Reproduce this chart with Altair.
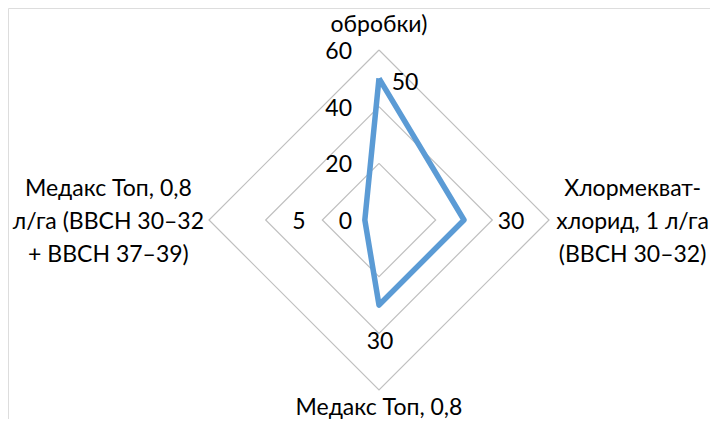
import math
import altair as alt
import pandas as pd

# ---- data ----
categories = [
    "Контроль (без обробки)",
    "Хлормекват-хлорид, 1 л/га (BBCH 30–32)",
    "Медакс Топ, 0,8 л/га (BBCH 37–39)",
    "Медакс Топ, 0,8 л/га (BBCH 30–32 + BBCH 37–39)",
]
category_labels = [
    "Контроль (без\nобробки)",
    "Хлормекват-\nхлорид, 1 л/га\n(BBCH 30–32)",
    "Медакс Топ, 0,8\nл/га (BBCH 37–39)",
    "Медакс Топ, 0,8\nл/га (BBCH 30–32\n+ BBCH 37–39)",
]
values = [50, 30, 30, 5]
ticks = [0, 20, 40, 60]
rings = [20, 40, 60]

# ---- layout ----
W, H = 702, 411
CX, CY = 371, 212           # centre of the radar in chart pixels
K = 170 / 60                # pixels per unit
FONT = "Lato"
FS = 23
LH = 33
LABEL_R = [75.3, 89.5, 71.6, 95.5]  # category label block-centre distance (units)
DLAB_OFF = [(26, 5), (47, 2), (1, 37), (-66, 2)]  # data label offsets (px)
n = len(categories)


def pol(r, i):
    a = 2 * math.pi * i / n
    return r * math.sin(a), r * math.cos(a)


ring_rows = []
for rv in rings:
    for j in range(n + 1):
        x, y = pol(rv, j % n)
        ring_rows.append({"ring": rv, "o": j, "x": x, "y": y})
ring_df = pd.DataFrame(ring_rows)

ser_rows = []
for j in range(n + 1):
    x, y = pol(values[j % n], j % n)
    ser_rows.append({"o": j, "x": x, "y": y, "cat": categories[j % n]})
ser_df = pd.DataFrame(ser_rows)

tick_df = pd.DataFrame({"t": ticks, "x": [-27 / K] * len(ticks), "y": [t - 2 / K for t in ticks],
                        "lab": [str(t) for t in ticks]})

dl_rows = []
for i, v in enumerate(values):
    x, y = pol(v, i)
    dx, dy = DLAB_OFF[i]
    dl_rows.append({"x": x + dx / K, "y": y - dy / K, "lab": str(v)})
dl_df = pd.DataFrame(dl_rows)

cl_rows = []
for i, lab in enumerate(category_labels):
    x, y = pol(LABEL_R[i], i)
    nl = lab.count("\n")
    cl_rows.append({"x": x, "y": y - 2 / K + nl * LH / 2 / K, "lab": lab})
cl_df = pd.DataFrame(cl_rows)

xs = alt.Scale(domain=[-CX / K, (W - CX) / K], nice=False, zero=False)
ys = alt.Scale(domain=[-(H - CY) / K, CY / K], nice=False, zero=False)
X = lambda: alt.X("x:Q", scale=xs, axis=None)
Y = lambda: alt.Y("y:Q", scale=ys, axis=None)

ring_layer = alt.Chart(ring_df).mark_line(color="#BFBFBF", strokeWidth=1.2).encode(
    x=X(), y=Y(), detail="ring:N", order="o:Q")

ser_layer = alt.Chart(ser_df).mark_line(color="#5B9BD5", strokeWidth=5.5, strokeJoin="round").encode(
    x=X(), y=Y(), order="o:Q")

tick_layer = alt.Chart(tick_df).mark_text(font=FONT, fontSize=FS, align="right", baseline="middle",
                                          color="#000000").encode(x=X(), y=Y(), text="lab:N")

dl_layer = alt.Chart(dl_df).mark_text(font=FONT, fontSize=FS, align="center", baseline="middle",
                                      color="#000000").encode(x=X(), y=Y(), text="lab:N")

cl_layer = alt.Chart(cl_df).mark_text(font=FONT, fontSize=FS, align="center", baseline="middle",
                                      lineBreak="\n", lineHeight=LH, color="#000000").encode(
    x=X(), y=Y(), text="lab:N")

chart = alt.layer(ring_layer, ser_layer, tick_layer, dl_layer, cl_layer).properties(
    width=W, height=H, autosize=alt.AutoSizeParams(type="none"), padding=0
).configure_view(strokeWidth=0, stroke="transparent").configure(background="#ffffff")

chart.save("out.html", embed_options={"renderer": "svg", "actions": False})
